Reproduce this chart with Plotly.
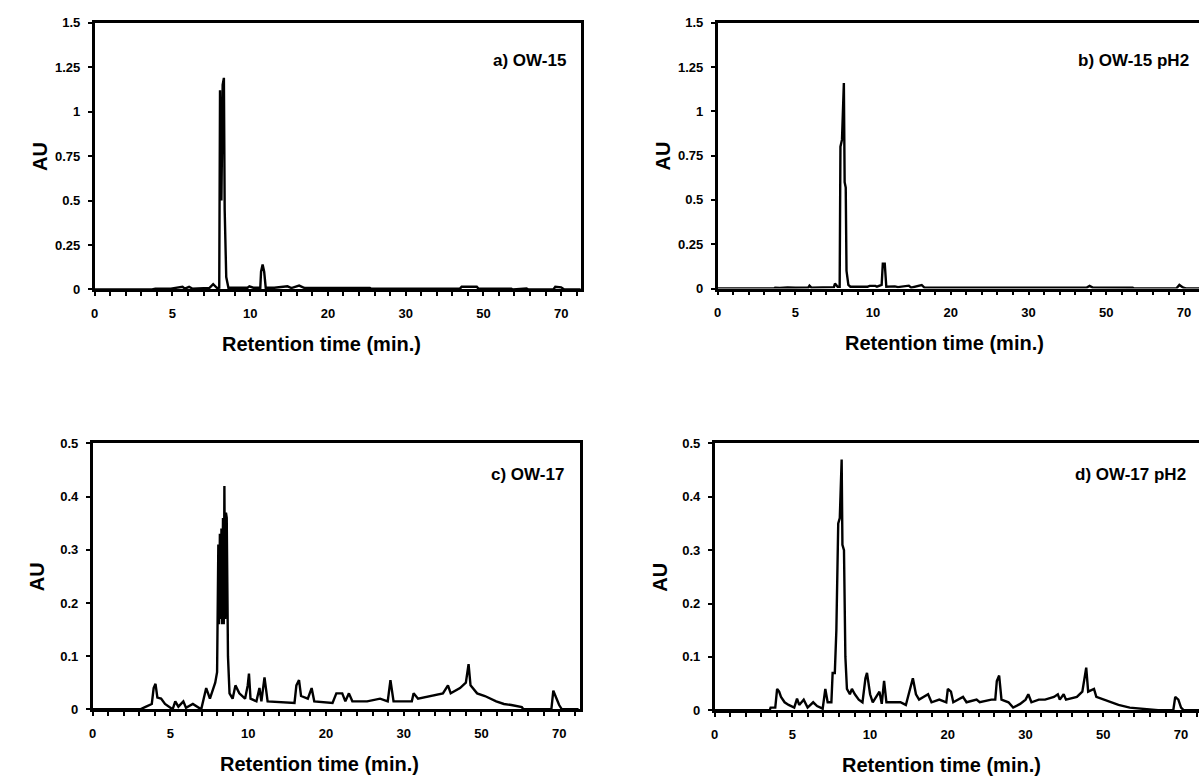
import numpy as np
import plotly.graph_objects as go

# ---------------- data (retention time in minutes, absorbance in AU) ----------------
TICK_MIN = [0, 5, 10, 20, 30, 50, 70]
TICK_TEXT = ["0", "5", "10", "20", "30", "50", "70"]

a_t = [0, 3.7, 3.9, 4.9, 5.65, 5.8, 6.07, 6.27, 7.37, 7.62, 7.87, 8.01, 8.06, 8.15, 8.23, 8.31, 8.36,
       8.46, 8.6, 9.83, 9.95, 10.4, 11.3, 11.4, 11.6, 11.8, 12.0, 13.1, 14.8, 15.3, 16.3, 17.0,
       25.4, 25.6, 43.9, 44.4, 48.3, 48.8, 57.2, 57.6, 61.1, 61.6, 68.0, 68.5, 70.0, 70.8, 75]
a_v = [0, 0, 0.005, 0.005, 0.015, 0.005, 0.015, 0.005, 0.008, 0.03, 0.008, 0.01, 1.12, 0.5, 1.15, 1.19, 0.45,
       0.07, 0.01, 0.01, 0.018, 0.01, 0.01, 0.1, 0.14, 0.1, 0.01, 0.01, 0.018, 0.008, 0.022, 0.008,
       0.008, 0.004, 0.004, 0.015, 0.015, 0.004, 0.004, 0, 0.006, 0, 0, 0.015, 0.012, 0, 0]

b_t = [0, 3.63, 3.7, 4.0, 4.5, 5.0, 5.84, 5.91, 6.03, 6.94, 7.48, 7.55, 7.72, 7.85, 7.9, 8.0, 8.12,
       8.17, 8.24, 8.29, 8.41, 8.54, 9.64, 9.77, 10.3, 10.5, 11.1, 11.25, 11.5, 11.7, 12.8, 13.2,
       14.6, 14.9, 15.9, 16.25, 16.6, 29.2, 29.4, 45.0, 45.7, 46.5, 56.8, 57.2, 68.0, 68.8, 69.8,
       70.5, 75]
b_v = [0, 0, 0.005, 0.003, 0.006, 0.004, 0.006, 0.016, 0.005, 0.005, 0.008, 0.028, 0.01, 0.01, 0.8, 0.84,
       1.16, 0.6, 0.57, 0.1, 0.02, 0.01, 0.01, 0.015, 0.015, 0.01, 0.02, 0.14, 0.14, 0.01, 0.012, 0.008,
       0.016, 0.005, 0.018, 0.02, 0.005, 0.005, 0.003, 0.005, 0.015, 0.005, 0.004, 0, 0, 0.02, 0.005,
       0, 0]

c_t = [0, 3.06, 3.43, 3.8, 3.92, 4.04, 4.16, 4.4, 4.65, 4.9, 5.14, 5.31, 5.51, 5.83, 6.0, 6.44, 6.73,
       6.98, 7.3, 7.54, 7.88, 8.0, 8.08, 8.13, 8.18, 8.23, 8.28, 8.33, 8.38, 8.43, 8.47, 8.52, 8.57,
       8.62, 8.7, 8.8, 9.0, 9.18, 9.43,
       9.8, 9.97, 10.1, 10.3, 11.06, 11.45, 11.7, 12.1, 12.5, 15.96, 16.2, 16.54, 16.8, 17.67, 18.16,
       18.5, 20.85, 21.34, 22.1, 22.5, 22.96, 23.4, 25.3, 26.97, 27.95, 28.3, 28.7, 32.1, 32.56, 33.7,
       36.7, 40.1, 41.4, 42.1, 44.5, 46.0, 46.7, 47.2, 48.9, 50.9, 53.8, 55.8, 57.7, 60.4, 60.8, 68.0,
       68.5, 69.3, 70.0, 70.7, 75]
c_v = [0, 0, 0.005, 0.01, 0.04, 0.048, 0.022, 0.02, 0.01, 0.005, 0, 0.015, 0.005, 0.015, 0.003, 0.01, 0.005,
       0, 0.04, 0.02, 0.05, 0.07, 0.31, 0.16, 0.33, 0.17, 0.34, 0.16, 0.36, 0.16, 0.42, 0.17, 0.37,
       0.36, 0.1, 0.03, 0.02, 0.045, 0.03,
       0.02, 0.045, 0.067, 0.02, 0.015, 0.04, 0.015, 0.06, 0.015, 0.012, 0.045, 0.055, 0.025, 0.02, 0.04,
       0.015, 0.012, 0.03, 0.03, 0.015, 0.03, 0.015, 0.015, 0.02, 0.015, 0.055, 0.015, 0.015, 0.03, 0.02,
       0.025, 0.03, 0.045, 0.03, 0.04, 0.05, 0.085, 0.045, 0.03, 0.025, 0.015, 0.01, 0.008, 0.004, 0, 0,
       0.035, 0.02, 0.008, 0, 0]

d_t = [0, 3.54, 3.6, 3.9, 4.02, 4.15, 4.27, 4.5, 4.76, 5.12, 5.3, 5.44, 5.73, 5.98, 6.34, 6.59, 6.95,
       7.12, 7.27, 7.51, 7.59, 7.73, 7.83, 7.95, 8.05, 8.17, 8.22, 8.32, 8.41, 8.51, 8.7, 8.83, 9.02,
       9.27, 9.51, 9.7, 9.8, 10.0, 10.34, 11.0, 11.2, 11.5, 11.8, 12.1, 13.9, 14.6, 15.5, 15.9, 16.3,
       17.46, 17.9, 18.9, 19.8, 20.0, 20.4, 20.7, 21.95, 22.4, 23.7, 24.1, 25.6, 26.1, 26.3, 26.6, 26.9,
       27.8, 28.4, 29.3, 30.0, 30.7, 31.5, 33.4, 35.0, 37.3, 38.3, 38.8, 39.8, 40.4, 43.2, 44.6, 45.6,
       46.1, 47.6, 48.2, 50.0, 53.9, 56.8, 59.8, 64.1, 68.0, 68.5, 69.3, 70.0, 70.7, 75]
d_v = [0, 0, 0.005, 0.005, 0.04, 0.035, 0.025, 0.015, 0.01, 0.005, 0.022, 0.01, 0.02, 0.005, 0.015, 0.008, 0.003,
       0.04, 0.015, 0.015, 0.07, 0.07, 0.15, 0.35, 0.36, 0.47, 0.31, 0.3, 0.1, 0.04, 0.03, 0.04, 0.03,
       0.02, 0.015, 0.06, 0.07, 0.03, 0.015, 0.03, 0.035, 0.012, 0.055, 0.015, 0.015, 0.01, 0.06, 0.03, 0.02,
       0.03, 0.015, 0.02, 0.015, 0.04, 0.035, 0.015, 0.025, 0.015, 0.02, 0.015, 0.02, 0.02, 0.055, 0.065, 0.02,
       0.015, 0.005, 0.012, 0.02, 0.03, 0.015, 0.02, 0.02, 0.025, 0.03, 0.02, 0.03, 0.02, 0.025, 0.035, 0.08,
       0.035, 0.04, 0.025, 0.02, 0.01, 0.005, 0.003, 0, 0, 0.025, 0.02, 0.005, 0, 0]

labels = ["a) OW-15", "b) OW-15 pH2", "c) OW-17", "d) OW-17 pH2"]
series = [(a_t, a_v), (b_t, b_v), (c_t, c_v), (d_t, d_v)]

# ---------------- the chart's broken time axis (equal spacing between labelled ticks) ----------------
def time_to_axis(t):
    t = np.asarray(t, dtype=float)
    pos = np.interp(t, TICK_MIN, np.arange(len(TICK_MIN)))
    over = t > TICK_MIN[-1]
    pos[over] = len(TICK_MIN) - 1 + (t[over] - TICK_MIN[-1]) / (TICK_MIN[-1] - TICK_MIN[-2])
    return pos

W, H = 1199, 784
UNIT = 78.0  # px per labelled tick interval

def fx(x):
    return x / W

def fy(y):
    return 1 - y / H

# panel geometry in pixels
panels = [
    dict(left=91, top=16, bottom=288, right=579, ymax=1.5, dtick=0.25, mirror_y=True),
    dict(left=716, top=16, bottom=287, right=1199, ymax=1.5, dtick=0.25, mirror_y=False),
    dict(left=89, top=445, bottom=716, right=578, ymax=0.5, dtick=0.1, mirror_y=True),
    dict(left=713, top=445, bottom=717, right=1199, ymax=0.5, dtick=0.1, mirror_y=False),
]

FONT = "Liberation Sans, Arial, Helvetica, sans-serif"

fig = go.Figure()
layout = dict(
    width=W, height=H, margin=dict(l=0, r=0, t=0, b=0, pad=0),
    paper_bgcolor="white", plot_bgcolor="white", showlegend=False,
    font=dict(family=FONT, color="black"),
)
annotations = []

for i, (p, (t, v), lab) in enumerate(zip(panels, series, labels)):
    k = "" if i == 0 else str(i + 1)
    xa, ya = "x" + k, "y" + k
    fig.add_trace(go.Scatter(x=time_to_axis(t), y=v, mode="lines",
                             line=dict(color="black", width=2.4),
                             xaxis=xa, yaxis=ya, hoverinfo="skip"))
    xr = (p["right"] - p["left"]) / UNIT
    layout["xaxis" + k] = dict(
        domain=[fx(p["left"]), min(1.0, fx(p["right"]))], anchor=ya,
        range=[0, xr], tickmode="array", tickvals=list(range(len(TICK_MIN))), ticktext=TICK_TEXT,
        ticks="outside", ticklen=4, tickwidth=1.5, tickcolor="black",
        minor=dict(dtick=0.2, tick0=0, ticks="outside", ticklen=4, tickwidth=1.5, tickcolor="black"),
        showline=True, linewidth=2.5, linecolor="black", mirror=True,
        showgrid=False, zeroline=False, ticklabelstandoff=6,
        tickfont=dict(size=13, family=FONT, weight="bold", color="black"),
    )
    layout["yaxis" + k] = dict(
        domain=[fy(p["bottom"]), fy(p["top"])], anchor=xa,
        range=[0, p["ymax"]], dtick=p["dtick"], tick0=0,
        ticks="outside", ticklen=4, tickwidth=1.5, tickcolor="black",
        showline=True, linewidth=2.5, linecolor="black", mirror=p["mirror_y"],
        showgrid=False, zeroline=False, ticklabelstandoff=5,
        tickfont=dict(size=13, family=FONT, weight="bold", color="black"),
    )
    # panel label
    annotations.append(dict(
        text="<b>" + lab + "</b>", xref="paper", yref="paper",
        x=fx(min(p["left"] + 475, 1193)), y=fy(p["top"] + (39 if i < 2 else 32)),
        xanchor="right", yanchor="middle", showarrow=False,
        font=dict(size=17, family=FONT, color="black")))
    # y-axis title
    annotations.append(dict(
        text="<b>AU</b>", xref="paper", yref="paper",
        x=fx(p["left"] - 55), y=fy((p["top"] + p["bottom"]) / 2),
        xanchor="center", yanchor="middle", textangle=-90, showarrow=False,
        font=dict(size=20, family=FONT, color="black")))
    # x-axis title
    annotations.append(dict(
        text="<b>Retention time (min.)</b>", xref="paper", yref="paper",
        x=fx(p["left"] + 228), y=fy(p["bottom"] + 56),
        xanchor="center", yanchor="middle", showarrow=False,
        font=dict(size=20, family=FONT, color="black")))

layout["annotations"] = annotations
fig.update_layout(**layout)
fig.write_html("out.html")
